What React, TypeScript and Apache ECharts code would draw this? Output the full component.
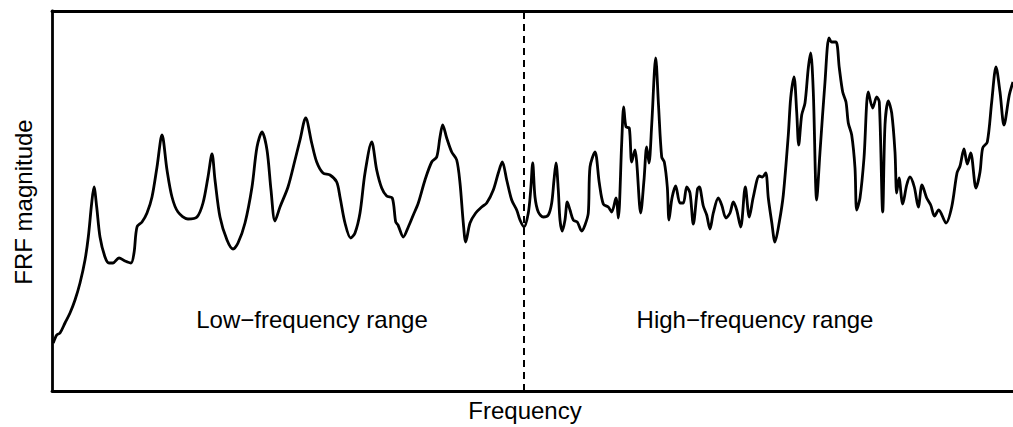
import React, { useEffect, useRef } from "react";
import * as echarts from "echarts";

// Frequency (arbitrary units) and FRF magnitude (arbitrary units)
const frequency: number[] = [
  1.3, 4.7, 8, 13, 18, 23, 28, 33, 36.3, 39.7, 42, 44.7, 48, 53, 57, 61, 67, 73, 79, 82, 85, 90, 95, 100, 105, 110,
  115, 120, 126, 136, 145, 151, 156, 160, 163, 168, 175, 181, 186, 193, 200, 205, 210, 215, 219, 223, 228, 236,
  243, 248, 253.7, 259.7, 264.7, 271, 278, 284.7, 288, 293, 298.7, 303, 308, 313, 319.7, 324.7, 329.7, 334.7,
  340.3, 343.7, 346, 351.3, 356.3, 361.3, 366.3, 373, 379.7, 384.7, 388, 390.7, 394.7, 399.7, 404.7, 408, 411.3,
  413.7, 418, 423.7, 429.7, 434.7, 441.3, 446.3, 450.3, 454.7, 459.7, 464.7, 468, 472,
  476.3, 478.7, 480.7, 483, 486.3, 491.3, 496.3, 499.7, 502, 504, 506.3, 508, 510.3, 513, 515.3, 518, 521.3,
  525.3, 529.7, 533, 536.3, 538, 543, 547.3, 551.3, 556.3, 559.7, 564, 566.3, 569.7, 571.7, 574, 577.3, 579.7,
  583, 584.7, 588.7, 592, 594.7, 597, 599.7, 603.7, 606.5, 609.7, 612.3, 615.3, 617, 620, 623.7, 628, 631.3,
  634.7, 638, 641.3, 645.5, 647.3, 651.3, 654.7, 658, 661.3, 666.3, 669.7, 674, 678, 681.3, 684.7, 688.7, 693.3,
  697.3, 701.3, 707.3, 710.3, 713.7, 716.3, 719.7, 723, 727.3, 731.3, 736.3, 738.7, 742, 744.7, 746.7, 749.7,
  753, 756.3, 758.7, 761.3, 764.7, 768, 773, 777, 779.7, 784, 787.3, 790.7, 794, 796.3, 799.7, 803, 804.7, 808,
  812, 816.3, 820.7, 824.7, 827.3, 830.7, 833, 836.3, 839.7, 843, 844.7, 847, 850.7, 854.7, 858, 862.3, 866.3,
  870, 874.7, 878.7, 882.5, 886.7, 894, 899.7, 905, 908, 912, 915.3, 918.7, 924, 928, 930.7, 935.3, 939.7, 944,
  948, 952, 957.3, 961,
];

const magnitude: number[] = [
  48, 56, 58, 68, 78, 91, 108, 131, 154, 188, 204, 184, 154, 134, 128, 128, 133, 130, 128, 138, 164, 169, 178, 194,
  224, 256, 221, 194, 179, 172, 174, 188, 214, 237, 211, 174, 151, 142, 148, 168, 204, 244, 259, 241, 201, 170,
  184, 204,
  231, 251, 273, 248, 229, 218, 216, 209, 194, 168, 153, 158, 178, 218, 249, 221, 203, 195, 193, 169, 166, 154,
  164, 176, 188, 211, 229, 234, 254, 266, 253, 239, 231, 208, 168, 149, 168, 178, 184, 188, 201, 218, 229, 211,
  191, 181, 171, 164,
  178, 201, 228, 194, 179, 174, 176, 188, 211, 228, 201, 171, 160, 171, 189, 181, 171, 169, 160, 166, 178, 224,
  239, 208, 187, 184, 179, 193, 173, 248, 284, 264, 263, 229, 241, 229, 178, 211, 244, 228, 266, 333, 286, 234,
  229, 204, 171, 193, 205, 188, 188, 204, 198, 167, 202, 204, 185, 176, 162, 178, 193, 186, 173, 178, 189, 181,
  164, 204, 174, 194, 215, 214, 218, 193, 169, 149, 169, 196, 256, 293, 314, 279, 246, 276, 288, 323, 338, 299,
  191, 239, 309, 353, 349, 349, 323, 299, 289, 268, 256, 223, 181, 193, 233, 299, 283, 294, 289, 179, 266, 290,
  278, 239, 198, 213, 187, 206, 214, 204, 184, 206, 193, 186, 175, 181, 168, 184, 218, 225, 242, 227, 238, 203,
  219, 243, 249, 289, 324, 299, 266, 296, 309,
];

const boundaryFrequency = 471.5;
const xRange: number[] = [0, 961];
const yRange: number[] = [0, 380];

const axisTitleX = "Frequency";
const axisTitleY = "FRF magnitude";
const rangeLabels: string[] = ["Low\u2212frequency range", "High\u2212frequency range"];

const FONT = "'Liberation Sans', Arial, Helvetica, sans-serif";
const FRAME = { show: true, onZero: false, lineStyle: { color: "#000000", width: 2.8 } };

export default function App() {
  const ref = useRef<HTMLDivElement>(null);

  useEffect(() => {
    if (!ref.current) return;
    const chart = echarts.init(ref.current, undefined, { renderer: "svg" });
    const data = frequency.map((f, i) => [f, magnitude[i]]);
    const hidden = {
      axisTick: { show: false },
      axisLabel: { show: false },
      splitLine: { show: false },
    };
    const textStyle = (text: string) => ({
      text,
      fontSize: 24,
      fontFamily: FONT,
      fill: "#000000",
      align: "center",
      verticalAlign: "middle",
    });
    chart.setOption({
      animation: false,
      backgroundColor: "#ffffff",
      grid: { left: 52, top: 11, right: 0, bottom: 36 },
      xAxis: [
        { type: "value", position: "bottom", min: xRange[0], max: xRange[1], axisLine: FRAME, ...hidden },
        { type: "value", position: "top", min: xRange[0], max: xRange[1], axisLine: FRAME, ...hidden },
      ],
      yAxis: {
        type: "value",
        position: "left",
        min: yRange[0],
        max: yRange[1],
        axisLine: FRAME,
        ...hidden,
      },
      series: [
        {
          type: "line",
          xAxisIndex: 0,
          data,
          showSymbol: false,
          smooth: 0.3,
          lineStyle: { color: "#000000", width: 2.8 },
          markLine: {
            silent: true,
            symbol: "none",
            label: { show: false },
            lineStyle: { color: "#000000", width: 2, type: [7, 5] },
            data: [{ xAxis: boundaryFrequency }],
          },
        },
      ],
      graphic: [
        { type: "text", x: 312, y: 319, style: textStyle(rangeLabels[0]) },
        { type: "text", x: 755, y: 319, style: textStyle(rangeLabels[1]) },
        { type: "text", x: 525, y: 410, style: textStyle(axisTitleX) },
        { type: "text", x: 23, y: 202, rotation: Math.PI / 2, style: textStyle(axisTitleY) },
      ],
    });
    return () => chart.dispose();
  }, []);

  return (
    <div
      ref={ref}
      style={{ position: "fixed", left: 0, top: 0, width: 1013, height: 427 }}
    />
  );
}
